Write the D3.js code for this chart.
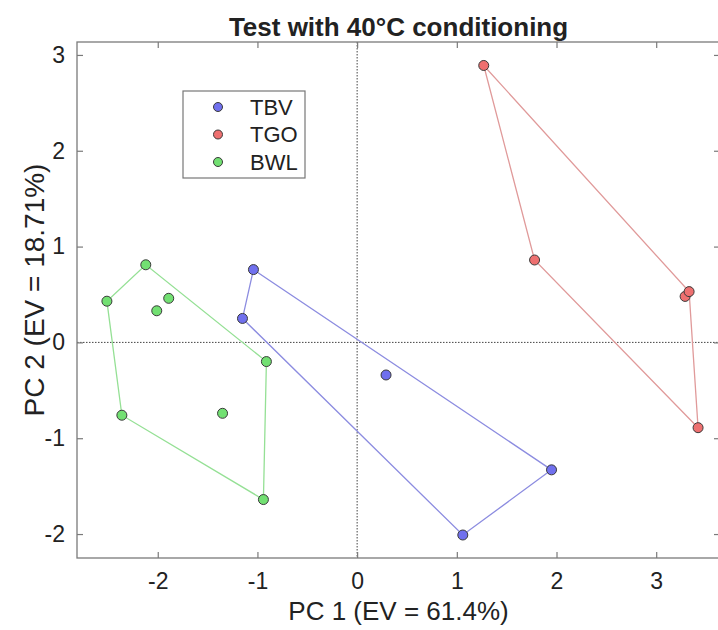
<!DOCTYPE html>
<html>
<head>
<meta charset="utf-8">
<script src="https://cdn.jsdelivr.net/npm/d3@7"></script>
<style>
  body { margin: 0; background: #fff; }
  text { font-family: "Liberation Sans", Arial, sans-serif; fill: #222; }
</style>
</head>
<body>
<div id="chart"></div>
<script>
// data (PC1, PC2 scores)
const groups = ["TBV", "TGO", "BWL"];
const tbvX = [-1.04, -1.15, 0.29, 1.95, 1.06];
const tbvY = [0.76, 0.25, -0.34, -1.33, -2.01];
const tgoX = [1.27, 1.78, 3.29, 3.33, 3.42];
const tgoY = [2.89, 0.86, 0.48, 0.53, -0.89];
const bwlX = [-2.12, -2.51, -1.89, -2.01, -0.91, -2.36, -1.35, -0.94];
const bwlY = [0.81, 0.43, 0.46, 0.33, -0.20, -0.76, -0.74, -1.64];
const xTicks = [-2, -1, 0, 1, 2, 3];
const yTicks = [-2, -1, 0, 1, 2, 3];

const fills = ["#7070ee", "#ee7070", "#72e072"];
const lines = ["#8c8ce0", "#e09a9a", "#95e095"];

const W = 718, H = 630;
const box = {left: 77, right: 720, top: 42, bottom: 558};

const svg = d3.select("#chart")
  .append("svg")
  .attr("width", W)
  .attr("height", H);

const x = d3.scaleLinear().domain([-2.81, 3.64]).range([box.left, box.right]);
const y = d3.scaleLinear().domain([-2.25, 3.135]).range([box.bottom, box.top]);

const series = [
  tbvX.map((v, i) => [v, tbvY[i]]),
  tgoX.map((v, i) => [v, tgoY[i]]),
  bwlX.map((v, i) => [v, bwlY[i]])
];

// zero lines
svg.append("line")
  .attr("x1", x(0)).attr("x2", x(0))
  .attr("y1", box.top).attr("y2", box.bottom)
  .attr("stroke", "#444").attr("stroke-width", 1)
  .attr("stroke-dasharray", "1.5,1.5");
svg.append("line")
  .attr("x1", box.left).attr("x2", box.right)
  .attr("y1", y(0)).attr("y2", y(0))
  .attr("stroke", "#444").attr("stroke-width", 1)
  .attr("stroke-dasharray", "1.5,1.5");

// axes with inward ticks on all four sides
const axisCol = "#7a7a7a";
const fmt = d => String(d);  // plain hyphen minus like the original
function styleAxis(g) {
  g.select(".domain").remove();
  g.selectAll(".tick line").attr("stroke", axisCol).attr("stroke-width", 1.2);
  g.selectAll(".tick text").style("font-size", "23px").attr("fill", "#222");
}
svg.append("g")
  .attr("transform", `translate(0,${box.bottom})`)
  .call(d3.axisBottom(x).tickValues(xTicks).tickSizeInner(-6).tickPadding(15).tickFormat(fmt))
  .call(styleAxis);
svg.append("g")
  .attr("transform", `translate(0,${box.top})`)
  .call(d3.axisTop(x).tickValues(xTicks).tickSizeInner(-6).tickFormat(""))
  .call(styleAxis);
svg.append("g")
  .attr("transform", `translate(${box.left},0)`)
  .call(d3.axisLeft(y).tickValues(yTicks).tickSizeInner(-6).tickPadding(12).tickFormat(fmt))
  .call(styleAxis);
svg.append("g")
  .attr("transform", `translate(${box.right},0)`)
  .call(d3.axisRight(y).tickValues(yTicks).tickSizeInner(-6).tickFormat(""))
  .call(styleAxis);

svg.append("rect")
  .attr("x", box.left).attr("y", box.top)
  .attr("width", box.right - box.left).attr("height", box.bottom - box.top)
  .attr("fill", "none").attr("stroke", axisCol).attr("stroke-width", 1.3);

// hull outlines
series.forEach((pts, i) => {
  const hull = d3.polygonHull(pts);
  svg.append("path")
    .attr("d", d3.line().x(d => x(d[0])).y(d => y(d[1])).curve(d3.curveLinearClosed)(hull))
    .attr("fill", "none")
    .attr("stroke", lines[i])
    .attr("stroke-width", 1.3);
});

// points
series.forEach((pts, i) => {
  svg.append("g").selectAll("circle")
    .data(pts)
    .enter()
    .append("circle")
    .attr("cx", d => x(d[0]))
    .attr("cy", d => y(d[1]))
    .attr("r", 5)
    .attr("fill", fills[i])
    .attr("stroke", "#3a3a3a")
    .attr("stroke-width", 1);
});

// legend
const leg = svg.append("g").attr("transform", "translate(183,91)");
leg.append("rect")
  .attr("width", 122).attr("height", 87)
  .attr("fill", "#fff").attr("stroke", "#777").attr("stroke-width", 1.2);
groups.forEach((name, i) => {
  leg.append("circle")
    .attr("cx", 35).attr("cy", 16 + i * 27.5)
    .attr("r", 4.5)
    .attr("fill", fills[i]).attr("stroke", "#3a3a3a").attr("stroke-width", 1);
  leg.append("text")
    .attr("x", 67).attr("y", 16 + i * 27.5)
    .attr("dy", "0.36em")
    .style("font-size", "22px")
    .text(name);
});

// title and axis labels
svg.append("text")
  .attr("x", (box.left + box.right) / 2)
  .attr("y", 36)
  .attr("text-anchor", "middle")
  .style("font-size", "26px")
  .style("font-weight", "bold")
  .attr("fill", "#000")
  .text("Test with 40°C conditioning");

svg.append("text")
  .attr("x", (box.left + box.right) / 2)
  .attr("y", 620)
  .attr("text-anchor", "middle")
  .style("font-size", "26px")
  .text("PC 1 (EV = 61.4%)");

svg.append("text")
  .attr("transform", `translate(44,290) rotate(-90)`)
  .attr("text-anchor", "middle")
  .style("font-size", "28px")
  .text("PC 2 (EV = 18.71%)");
</script>
</body>
</html>
